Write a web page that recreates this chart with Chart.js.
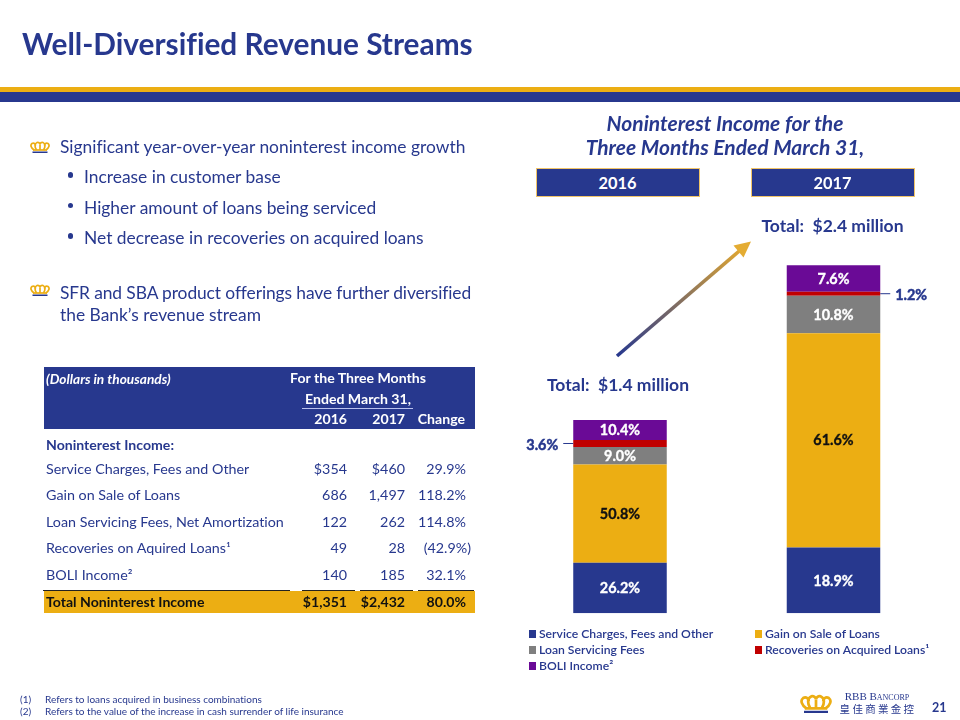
<!DOCTYPE html>
<html><head><meta charset="utf-8">
<script src="https://cdn.jsdelivr.net/npm/chart.js@4/dist/chart.umd.min.js"></script>
<style>
html,body{margin:0;padding:0;background:#fff}
#stage{position:relative;width:960px;height:720px;overflow:hidden;font-family:Lato,sans-serif;color:#27388E;font-variant-ligatures:none}
.t{position:absolute;white-space:nowrap;line-height:1}
.r{position:absolute}
#chart{position:absolute;left:0;top:0;width:960px;height:720px}
</style></head><body>
<div id="stage"><canvas id="chart" width="960" height="720"></canvas></div>
<script>
const categories=['2016','2017'];
const serviceCharges=[354,460];
const gainOnSale=[686,1497];
const loanServicing=[122,262];
const recoveries=[49,28];
const boliIncome=[140,185];
const serviceShare=['26.2%','18.9%'];
const gainShare=['50.8%','61.6%'];
const loanShare=['9.0%','10.8%'];
const recoveriesShare=['3.6%','1.2%'];
const boliShare=['10.4%','7.6%'];
const seriesNames=['Service Charges, Fees and Other','Gain on Sale of Loans','Loan Servicing Fees','Recoveries on Acquired Loans¹','BOLI Income²'];
const tableRows=[
 ['Service Charges, Fees and Other','$354','$460','29.9%'],
 ['Gain on Sale of Loans','686','1,497','118.2%'],
 ['Loan Servicing Fees, Net Amortization','122','262','114.8%'],
 ['Recoveries on Aquired Loans¹','49','28','(42.9%)'],
 ['BOLI Income²','140','185','32.1%']];
const tableTotal=['Total Noninterest Income','$1,351','$2,432','80.0%'];

const NAVY='#27388E',GOLD='#ECAE13',GRAY='#7F7F7F',RED='#C00000',PURPLE='#6A0A96';
const stage=document.getElementById('stage');
function rect(x,y,w,h,c,extra){const d=document.createElement('div');d.className='r';
 d.style.cssText+=`left:${x}px;top:${y}px;width:${w}px;height:${h}px;background:${c};${extra||''}`;stage.appendChild(d);return d;}
function text(s,x,cy,size,o){o=o||{};const d=document.createElement('div');d.className='t';d.textContent=s;
 let pos=o.align==='right'?`right:${960-x}px;`:o.align==='center'?`left:${x}px;transform:translateX(-50%);`:`left:${x}px;`;
 d.style.cssText+=`${pos}top:${cy-size/2}px;font-size:${size}px;color:${o.color||NAVY};font-weight:${o.weight||400};font-style:${o.italic?'italic':'normal'};${o.extra||''}`;
 stage.appendChild(d);return d;}
function crown(x,y,w){const ns='http://www.w3.org/2000/svg';const s=document.createElementNS(ns,'svg');
 s.setAttribute('viewBox','0 0 40 24');s.setAttribute('width',w);s.setAttribute('height',w*0.6);
 s.style.cssText=`position:absolute;left:${x}px;top:${y}px`;
 s.innerHTML=`<g fill="none" stroke="${GOLD}" stroke-width="3.4"><path d="M8 18C2 14 0 8 4 5C8 3 11 6 11 9"/><path d="M32 18C38 14 40 8 36 5C32 3 29 6 29 9"/><path d="M13 18C9 12 9 5 14 3C17 2 20 4 20 7C20 4 23 2 26 3C31 5 31 12 27 18"/><path d="M20 7V18"/><path d="M6 18H34"/></g><rect x="5" y="21" width="30" height="3" fill="${NAVY}"/>`;
 stage.appendChild(s);}

/* header */
text('Well-Diversified Revenue Streams',22,44,29.8,{weight:700});
rect(0,87,960,5,GOLD);
rect(0,92,960,9.5,NAVY);
/* bullets */
crown(30,141,20);crown(30,284,20);
const B=17.4;
text('Significant year-over-year noninterest income growth',60,147,B);
[['Increase in customer base',177],['Higher amount of loans being serviced',207.5],['Net decrease in recoveries on acquired loans',238]].forEach(([s,y])=>{
 text(s,84,y,B);rect(67.5,y-5,5.5,5.5,NAVY,'border-radius:50%');});
text('SFR and SBA product offerings have further diversified',60,292.5,B,{extra:'letter-spacing:-0.1px;'});
text('the Bank’s revenue stream',60,315,B);
/* right headers */
text('Noninterest Income for the',725,122,21,{align:'center',weight:700,italic:true});
text('Three Months Ended March 31,',725,146,21,{align:'center',weight:700,italic:true});
[[536,categories[0],617.5],[751,categories[1],832.5]].forEach(([x,s,c])=>{
 rect(x,168,164,29,NAVY,'box-sizing:border-box;border:1px solid #F0C468');
 text(s,c,183,16.4,{align:'center',weight:700,color:'#fff'});});
text('Total:  $2.4 million',832.5,226,17.5,{align:'center',weight:700,extra:'white-space:pre;'});
text('Total:  $1.4 million',618,385,17.5,{align:'center',weight:700,extra:'white-space:pre;'});
/* arrow */
(function(){const ns='http://www.w3.org/2000/svg';const s=document.createElementNS(ns,'svg');
 s.setAttribute('width',960);s.setAttribute('height',720);s.style.cssText='position:absolute;left:0;top:0';
 s.innerHTML=`<defs><linearGradient id="ag" gradientUnits="userSpaceOnUse" x1="617" y1="356" x2="751" y2="241"><stop offset="0" stop-color="${NAVY}"/><stop offset="1" stop-color="#EDAE2B"/></linearGradient></defs>
 <path d="M617 356L741 249.5" stroke="url(#ag)" stroke-width="3.6" fill="none"/><path d="M751 241.5L733.5 245.5L743.5 257.5Z" fill="#E4AC33"/>`;
 stage.appendChild(s);})();
/* table */
rect(44,367,431,62,NAVY);
const TS=14.3,TB=14.1,cols=[347,405,466];
text('(Dollars in thousands)',46,379,TB-0.4,{weight:700,italic:true,color:'#fff'});
text('For the Three Months',358,378.5,TB,{align:'center',weight:700,color:'#fff'});
text('Ended March 31,',358,399.5,TB,{align:'center',weight:700,color:'#fff'});
rect(302,407.5,111,1,'#B9C1EE');
text('2016',cols[0],419.5,TB,{align:'right',weight:700,color:'#fff'});
text('2017',cols[1],419.5,TB,{align:'right',weight:700,color:'#fff'});
text('Change',cols[2]-1,419.5,TB,{align:'right',weight:700,color:'#fff'});
text('Noninterest Income:',46,445,TB,{weight:700});
tableRows.forEach((r,i)=>{const y=[469,495.5,522,548.5,575][i];
 text(r[0],46,y,TS);text(r[1],cols[0],y,TS,{align:'right'});text(r[2],cols[1],y,TS,{align:'right'});
 text(r[3],i===3?471:cols[2],y,TS,{align:'right'});});
rect(44,591,431,21.5,GOLD);
[[43,247],[302,53],[360,53],[418,56]].forEach(([x,w])=>rect(x,590,w,1.2,'#222'));
text(tableTotal[0],46,602,TB,{weight:700,color:'#111'});
text(tableTotal[1],cols[0],602,TB,{align:'right',weight:700,color:'#111'});
text(tableTotal[2],cols[1],602,TB,{align:'right',weight:700,color:'#111'});
text(tableTotal[3],cols[2],602,TB,{align:'right',weight:700,color:'#111'});
/* footnotes */
const FS=10;
text('(1)',20,698.5,FS);text('Refers to loans acquired in business combinations',45,698.5,FS);
text('(2)',20,711,FS);text('Refers to the value of the increase in cash surrender of life insurance',45,711,FS);
/* logo */
crown(800,694,32);
text('RBB Bancorp',877,696.5,11,{align:'center',weight:400,extra:'font-family:"Liberation Serif",serif;font-variant:small-caps;'});
text('皇佳商業金控',878,709.5,10.5,{align:'center',extra:'font-family:"Noto Sans CJK TC";letter-spacing:2.3px;'});
text('21',932,708,12.5,{weight:700});

/* legend */
const colors=[NAVY,GOLD,GRAY,RED,PURPLE];
[[528.5,634],[754.5,634],[528.5,650],[754.5,650],[528.5,666]].forEach(([x,y],i)=>{
 rect(x,y-4,7.5,7.5,colors[i]);
 text(seriesNames[i],x+10.5,y,12.2,{weight:600});});

const sources=[serviceCharges,gainOnSale,loanServicing,recoveries,boliIncome];
const shares=[serviceShare,gainShare,loanShare,recoveriesShare,boliShare];
const labelPlugin={id:'segmentLabels',afterDatasetsDraw(chart){const c=chart.ctx;
 c.save();c.font='700 14.4px Lato';c.textBaseline='middle';c.lineWidth=0.35;
 chart.data.datasets.forEach((ds,i)=>{chart.getDatasetMeta(i).data.forEach((el,j)=>{
  const s=shares[i][j],midY=(el.y+el.base)/2;
  if(i===3){
   const left=j===0;const bx=left?el.x-el.width/2:el.x+el.width/2;
   c.strokeStyle=NAVY;c.lineWidth=1;c.beginPath();
   c.moveTo(bx,midY);c.lineTo(bx+(left?-10:10),midY);c.stroke();
   c.fillStyle=NAVY;c.textAlign=left?'right':'left';c.lineWidth=0.5;
   c.fillText(s,bx+(left?-15:15),midY+1.5);c.strokeText(s,bx+(left?-15:15),midY+1.5);c.lineWidth=0.35;
  }else{
   const col=i===1?'#111':'#fff';c.fillStyle=col;c.strokeStyle=col;c.textAlign='center';c.fillText(s,el.x,midY+0.5);c.strokeText(s,el.x,midY+0.5);
  }
 });});
 c.restore();}};
new Chart(document.getElementById('chart'),{type:'bar',
 data:{labels:categories,datasets:sources.map((d,i)=>({label:seriesNames[i],data:d,backgroundColor:colors[i],borderWidth:0,stack:'s',categoryPercentage:1,barPercentage:0.438}))},
 options:{responsive:false,animation:false,
  layout:{padding:{left:513.25,right:19.75,top:255.5,bottom:106.7}},
  plugins:{legend:{display:false},title:{display:false},tooltip:{enabled:false}},
  scales:{x:{display:false,stacked:true},y:{display:false,stacked:true,min:0,max:2500}}},
 plugins:[labelPlugin]});
</script></body></html>
